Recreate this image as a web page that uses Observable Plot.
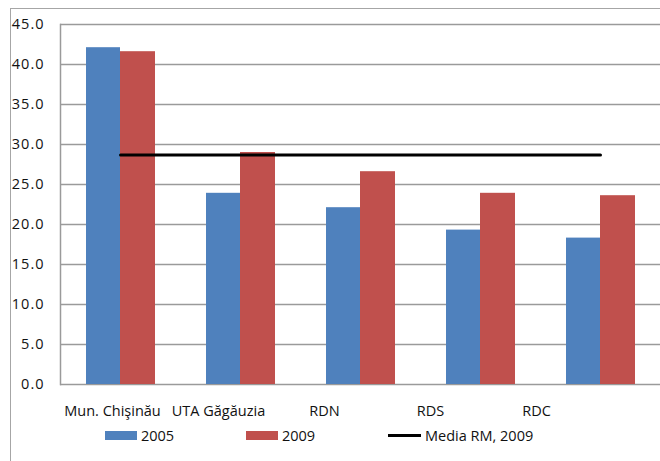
<!DOCTYPE html>
<html>
<head>
<meta charset="utf-8">
<script src="https://cdn.jsdelivr.net/npm/d3@7"></script>
<script src="https://cdn.jsdelivr.net/npm/@observablehq/plot@0.6"></script>
<style>
  html, body { margin: 0; padding: 0; background: #fff; }
  #wrap { position: relative; width: 660px; height: 461px; overflow: hidden; font-family: "Open Sans", sans-serif; font-size: 14.5px; color: #111; }
  #border { position: absolute; left: 10px; top: 8px; right: -2px; bottom: -2px; border-left: 1px solid #a6a6a6; border-top: 1px solid #a6a6a6; }
  #main { position: absolute; left: 0; top: 0; }
  #labels { position: absolute; left: 0; top: 396px; }
  #main svg text { font-size: 14.5px; letter-spacing: 1px; }
  #labels svg text { font-size: 14.5px; }
  .leg { position: absolute; top: 426px; height: 18px; display: flex; align-items: center; white-space: nowrap; }
  .sw { width: 32px; height: 9px; margin-right: 4px; }
  .ln { width: 33px; height: 3px; background: #000; margin-right: 4px; }
</style>
</head>
<body>
<div id="wrap">
  <div id="border"></div>
  <div id="main"></div>
  <div id="labels"></div>
</div>
<script>
const categories = ["Mun. Chişinău", "UTA Găgăuzia", "RDN", "RDS", "RDC"];
const values2005 = [42.1, 23.9, 22.1, 19.3, 18.3];
const values2009 = [41.6, 29.0, 26.6, 23.9, 23.6];
const mediaRM2009 = 28.7;
const yTicks = [0, 5, 10, 15, 20, 25, 30, 35, 40, 45];
const seriesNames = ["2005", "2009", "Media RM, 2009"];
const colors = {"2005": "#4F81BD", "2009": "#C0504D", "Media RM, 2009": "#000000"};

const rows2005 = categories.map((c, i) => ({cat: c, v: values2005[i]}));
const rows2009 = categories.map((c, i) => ({cat: c, v: values2009[i]}));
const rowsMedia = categories.map(c => ({cat: c, v: mediaRM2009}));

const main = Plot.plot({
  width: 660,
  height: 396,
  marginLeft: 60,
  marginRight: 0,
  marginTop: 24,
  marginBottom: 12,
  x: {type: "band", domain: categories, padding: 0, axis: null},
  y: {domain: [0, 45], axis: null},
  style: {fontFamily: "Open Sans, sans-serif", fontSize: "14.5px", color: "#111", background: "transparent", overflow: "visible"},
  marks: [
    Plot.ruleY(yTicks, {stroke: "#9a9a9a", strokeWidth: 1.5}),
    Plot.axisY(yTicks, {tickSize: 0, tickPadding: 16, tickFormat: d3.format(".1f"), label: null, fontSize: 14.5, fill: "#111"}),
    Plot.frame({anchor: "left", stroke: "#9a9a9a", strokeWidth: 1.5}),
    Plot.barY(rows2005, {x: "cat", y: "v", fill: colors["2005"], insetLeft: 26, insetRight: 60}),
    Plot.barY(rows2009, {x: "cat", y: "v", fill: colors["2009"], insetLeft: 60, insetRight: 25}),
    Plot.lineY(rowsMedia, {x: "cat", y: "v", stroke: colors["Media RM, 2009"], strokeWidth: 3})
  ]
});
document.getElementById("main").appendChild(main);

const labels = Plot.plot({
  width: 660,
  height: 30,
  marginLeft: 59,
  marginRight: 71,
  marginTop: 0,
  marginBottom: 0,
  x: {type: "band", domain: categories, padding: 0, axis: null},
  y: {axis: null},
  style: {fontFamily: "Open Sans, sans-serif", fontSize: "14.5px", color: "#111", background: "transparent", overflow: "visible"},
  marks: [
    Plot.text(categories, {x: d => d, frameAnchor: "middle", fontSize: 14.5, fill: "#111"})
  ]
});
document.getElementById("labels").appendChild(labels);

const legendLeft = {"2005": 105, "2009": 246, "Media RM, 2009": 388};
const wrap = document.getElementById("wrap");
seriesNames.forEach(name => {
  const item = document.createElement("div");
  item.className = "leg";
  item.style.left = legendLeft[name] + "px";
  const mark = document.createElement("div");
  mark.className = name === "Media RM, 2009" ? "ln" : "sw";
  mark.style.background = colors[name];
  const t = document.createElement("span");
  t.textContent = name;
  item.appendChild(mark);
  item.appendChild(t);
  wrap.appendChild(item);
});
</script>
</body>
</html>
